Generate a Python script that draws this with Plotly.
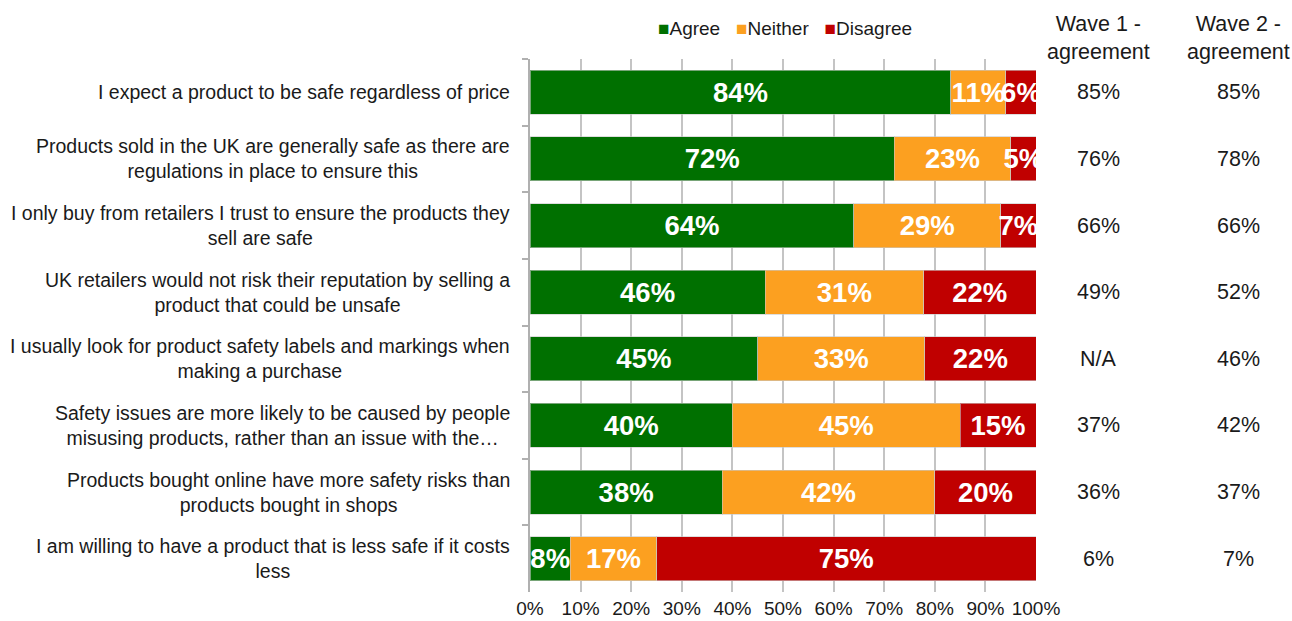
import plotly.graph_objects as go

statements = [
    "I expect a product to be safe regardless of price",
    "Products sold in the UK are generally safe as there are<br>regulations in place to ensure this",
    "I only buy from retailers I trust to ensure the products they<br>sell are safe",
    "UK retailers would not risk their reputation by selling a<br>product that could be unsafe",
    "I usually look for product safety labels and markings when<br>making a purchase",
    "Safety issues are more likely to be caused by people<br>misusing products, rather than an issue with the…",
    "Products bought online have more safety risks than<br>products bought in shops",
    "I am willing to have a product that is less safe if it costs<br>less",
]
agree = [84, 72, 64, 46, 45, 40, 38, 8]
neither = [11, 23, 29, 31, 33, 45, 42, 17]
disagree = [6, 5, 7, 22, 22, 15, 20, 75]
wave1 = ["85%", "76%", "66%", "49%", "N/A", "37%", "36%", "6%"]
wave2 = ["85%", "78%", "66%", "52%", "46%", "42%", "37%", "7%"]
x_ticks = [0, 10, 20, 30, 40, 50, 60, 70, 80, 90, 100]

FONT = "Liberation Sans, Arial, sans-serif"
TEXT = "#1a1a1a"
series = [
    ("Agree", agree, "#007000"),
    ("Neither", neither, "#FCA020"),
    ("Disagree", disagree, "#C00000"),
]

keys = list(range(len(statements)))

fig = go.Figure()
for name, vals, color in series:
    fig.add_trace(go.Bar(
        name=name,
        y=keys,
        x=vals,
        orientation="h",
        marker=dict(color=color, line=dict(color="rgba(200,200,200,0.6)", width=1)),
        text=[f"{v}%" for v in vals],
        textposition="inside",
        insidetextanchor="middle",
        textangle=0,
        constraintext="none",
        textfont=dict(family=FONT, size=27.5, color="white", weight="bold"),
        hoverinfo="skip",
        showlegend=False,
    ))

annotations = []
# statement labels: block right-aligned next to the axis, lines centred
for k, label in zip(keys, statements):
    annotations.append(dict(
        x=-0.035, xref="paper", y=k, yref="y", text=label,
        xanchor="right", yanchor="middle", align="center", showarrow=False,
        font=dict(family=FONT, size=19.5, color=TEXT),
    ))
# agreement columns for the two waves
for k, w1, w2 in zip(keys, wave1, wave2):
    for xpos, val in [(1.124, w1), (1.401, w2)]:
        annotations.append(dict(
            x=xpos, xref="paper", y=k, yref="y", text=val, xanchor="center",
            yanchor="middle", showarrow=False,
            font=dict(family=FONT, size=21.5, color=TEXT),
        ))
for xpos, head in [(1.124, "Wave 1 -<br>agreement"), (1.401, "Wave 2 -<br>agreement")]:
    annotations.append(dict(
        x=xpos, xref="paper", y=1.039, yref="paper", text=head,
        xanchor="center", yanchor="middle", align="center", showarrow=False,
        font=dict(family=FONT, size=21.5, color=TEXT),
    ))
# compact legend line with coloured square keys
legend_text = "&nbsp;&nbsp;&nbsp;".join(
    f"<span style='color:{c}; font-size:19px'>■</span>{n}" for n, _, c in series
)
annotations.append(dict(
    x=0.504, xref="paper", y=1.057, yref="paper", text=legend_text,
    xanchor="center", yanchor="middle", showarrow=False,
    font=dict(family=FONT, size=19, color=TEXT),
))

fig.update_layout(
    barmode="stack",
    barnorm="percent",
    bargap=0.34,
    width=1292,
    height=621,
    margin=dict(l=530, r=256, t=59, b=29, autoexpand=False),
    paper_bgcolor="white",
    plot_bgcolor="white",
    uniformtext=dict(minsize=27.5, mode="show"),
    showlegend=False,
    annotations=annotations,
    xaxis=dict(
        range=[0, 100],
        tickvals=x_ticks,
        ticktext=[f"{t}%" for t in x_ticks],
        showgrid=True, gridcolor="#c4c4c4", gridwidth=1.5,
        zeroline=False, showline=False, ticks="",
        ticklabelstandoff=3, automargin=False,
        tickfont=dict(family=FONT, size=19, color=TEXT),
    ),
    yaxis=dict(
        type="category",
        autorange="reversed",
        showticklabels=False, automargin=False,
        showline=True, linecolor="#b0b0b0", linewidth=1.5,
        ticks="outside", tickson="boundaries", ticklen=6,
        tickcolor="#b0b0b0", tickwidth=1.5,
        showgrid=False, zeroline=False,
    ),
)

fig.write_html("out.html")
